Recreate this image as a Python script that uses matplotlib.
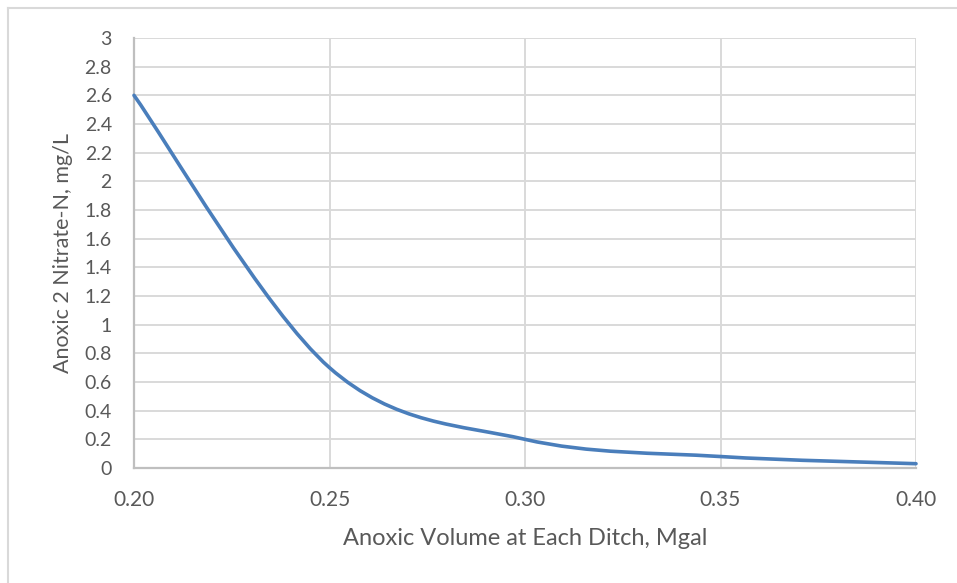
import numpy as np
import matplotlib
matplotlib.use('Agg')
import matplotlib.pyplot as plt
from matplotlib.path import Path
from matplotlib.patches import PathPatch
from matplotlib.lines import Line2D

# Data
anoxic_volume = [0.20, 0.25, 0.30, 0.35, 0.40]      # Mgal
nitrate_n = [2.6, 0.7, 0.2, 0.08, 0.03]             # mg/L

x_ticks = [0.20, 0.25, 0.30, 0.35, 0.40]
x_tick_labels = ['0.20', '0.25', '0.30', '0.35', '0.40']
y_ticks = [0, 0.2, 0.4, 0.6, 0.8, 1, 1.2, 1.4, 1.6, 1.8, 2, 2.2, 2.4, 2.6, 2.8, 3]
y_tick_labels = ['0', '0.2', '0.4', '0.6', '0.8', '1', '1.2', '1.4', '1.6',
                 '1.8', '2', '2.2', '2.4', '2.6', '2.8', '3']

TEXT_COLOR = '#595959'
GRID_COLOR = '#D9D9D9'
LINE_COLOR = '#4A7EBB'

plt.rcParams['font.family'] = ['Lato', 'DejaVu Sans']


def smooth_path(xs, ys):
    """Excel-like smoothed line: cubic Bezier segments through the points."""
    pts = np.column_stack([xs, ys]).astype(float)
    n = len(pts)
    verts = [tuple(pts[0])]
    codes = [Path.MOVETO]
    for i in range(n - 1):
        p0 = pts[i - 1] if i > 0 else pts[i]
        p1 = pts[i]
        p2 = pts[i + 1]
        p3 = pts[i + 2] if i + 2 < n else pts[i + 1]
        c1 = p1 + (p2 - p0) / 6.0
        c2 = p2 - (p3 - p1) / 6.0
        verts += [tuple(c1), tuple(c2), tuple(p2)]
        codes += [Path.CURVE4] * 3
    return Path(verts, codes)


fig = plt.figure(figsize=(9.57, 5.83), dpi=100)
ax = fig.add_axes([134 / 957, 1 - 468 / 583, (916 - 134) / 957, (468 - 38) / 583])

# The smoothed series line
patch = PathPatch(smooth_path(anoxic_volume, nitrate_n), fill=False,
                  edgecolor=LINE_COLOR, linewidth=2.6, capstyle='round',
                  joinstyle='round', zorder=3, clip_on=False)
ax.add_patch(patch)

ax.set_xlim(0.20, 0.40)
ax.set_ylim(0, 3)
ax.set_xticks(x_ticks)
ax.set_xticklabels(x_tick_labels)
ax.set_yticks(y_ticks)
ax.set_yticklabels(y_tick_labels)

ax.grid(True, color=GRID_COLOR, linewidth=1.4)
ax.set_axisbelow(True)
ax.tick_params(length=0, labelcolor=TEXT_COLOR)
ax.tick_params(axis='x', pad=16, labelsize=15)
ax.tick_params(axis='y', pad=16, labelsize=14)

for side in ['top', 'right']:
    ax.spines[side].set_visible(False)
for side in ['left', 'bottom']:
    ax.spines[side].set_color('#BFBFBF')
    ax.spines[side].set_linewidth(1.6)

ax.set_xlabel('Anoxic Volume at Each Ditch, Mgal', fontsize=17,
              color=TEXT_COLOR, labelpad=13)
ax.set_ylabel('Anoxic 2 Nitrate-N, mg/L', fontsize=15.5,
              color=TEXT_COLOR, labelpad=8)

# Chart area border (only top and left visible in the crop)
fig.add_artist(Line2D([8 / 957, 8 / 957], [0, 1 - 8 / 583],
                      transform=fig.transFigure, color='#D9D9D9', linewidth=1.5))
fig.add_artist(Line2D([8 / 957, 1], [1 - 8 / 583, 1 - 8 / 583],
                      transform=fig.transFigure, color='#D9D9D9', linewidth=1.5))

fig.savefig('out.png', dpi=100)
plt.close(fig)
